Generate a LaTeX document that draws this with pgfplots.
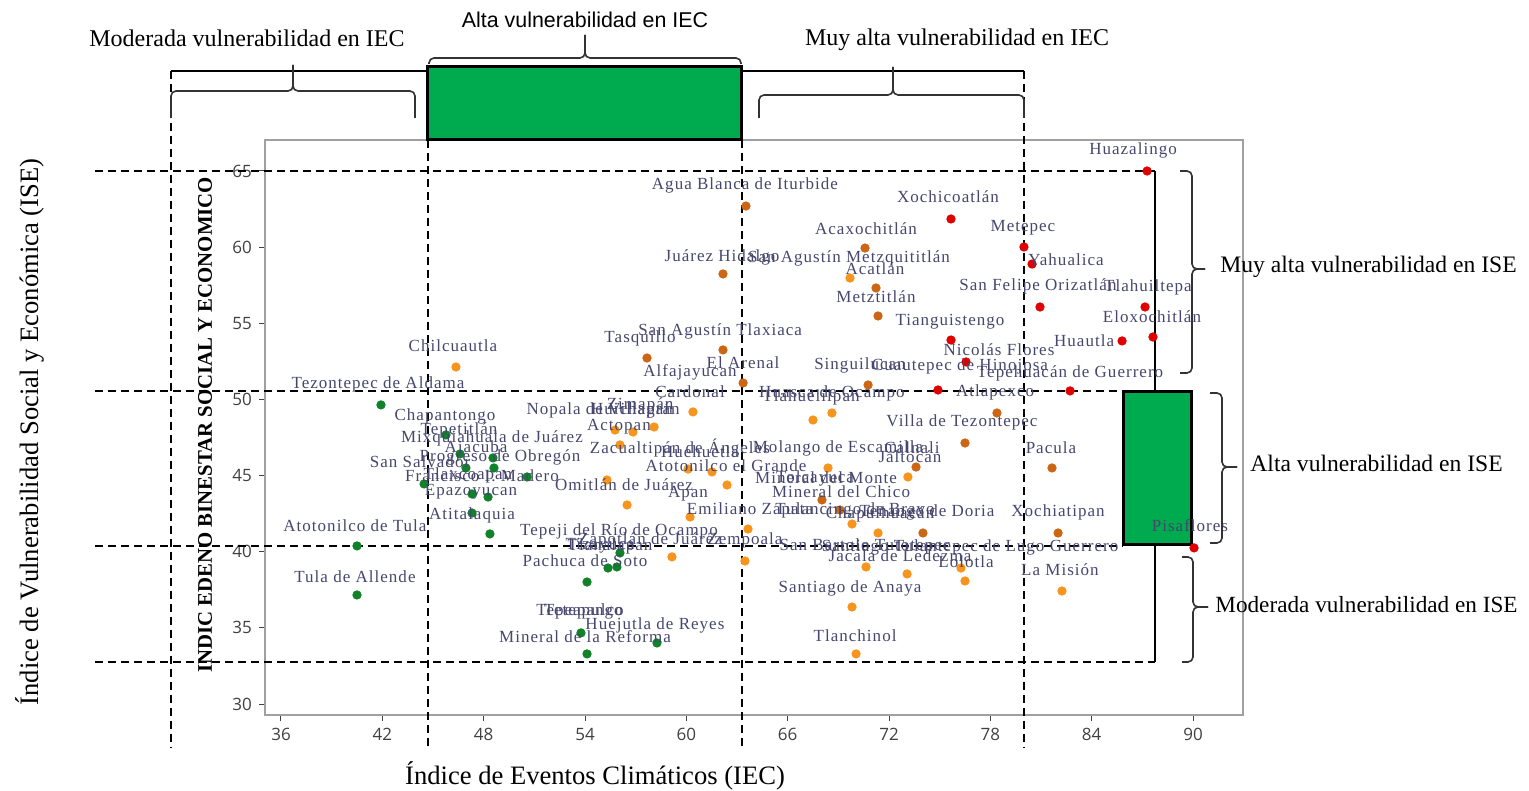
\documentclass[border=0pt]{standalone}
\usepackage{fontspec}
\setmainfont{Liberation Serif}
\newfontfamily\tickfont{Open Sans}
\newfontfamily\lblfont[LetterSpace=6]{Liberation Serif}
\newfontfamily\narrowsans{Liberation Sans}
\usepackage{pgfplots}
\usepackage{pgfplotstable}
\pgfplotsset{compat=1.18}
\definecolor{cgreen}{RGB}{16,130,40}
\definecolor{corange}{RGB}{247,148,29}
\definecolor{cbrown}{RGB}{205,102,20}
\definecolor{cred}{RGB}{225,0,0}
\definecolor{boxgreen}{RGB}{0,170,79}
\definecolor{lblcol}{RGB}{70,70,110}
\definecolor{axgray}{RGB}{160,160,160}
\definecolor{tickgray}{RGB}{64,64,64}

\pgfplotstableread{
x y
87.28 65.00
75.67 61.85
79.99 60.01
80.47 58.89
80.94 56.07
87.16 56.07
87.63 54.10
85.80 53.84
75.67 53.90
76.56 52.46
74.90 50.62
82.72 50.56
90.06 40.25
}\redpts

\pgfplotstableread{
x y
63.53 62.70
70.58 59.94
62.17 58.24
71.23 57.32
71.35 55.48
62.17 53.25
57.67 52.72
63.36 51.08
70.76 50.95
78.39 49.11
76.50 47.14
73.60 45.56
81.65 45.50
74.01 41.23
82.01 41.23
68.03 43.40
69.10 42.74
}\brownpts

\pgfplotstableread{
x y
46.36 52.13
69.69 57.97
60.39 49.18
58.09 48.19
55.78 47.99
56.84 47.86
56.07 47.01
60.10 45.43
61.52 45.24
55.30 44.71
62.41 44.38
56.49 43.07
60.22 42.28
63.65 41.49
67.50 48.65
68.62 49.11
68.39 45.50
73.12 44.91
69.81 41.82
71.35 41.23
59.15 39.66
63.47 39.39
70.64 39.00
73.07 38.54
76.26 38.93
76.50 38.08
82.24 37.42
69.81 36.37
70.05 33.29
}\orangepts

\pgfplotstableread{
x y
41.92 49.64
45.77 47.67
46.60 46.42
48.55 46.16
46.95 45.50
48.61 45.50
50.57 44.91
44.47 44.45
47.31 43.79
48.26 43.59
47.31 42.54
48.37 41.17
40.50 40.38
40.50 37.16
54.12 38.01
53.76 34.67
54.12 33.29
58.26 34.01
56.07 39.92
55.36 38.93
55.89 39.00
}\greenpts

\pgfplotstableread[col sep=comma]{
x,y,label
86.45,66.38,Huazalingo
63.47,64.08,Agua Blanca de Iturbide
75.49,63.29,Xochicoatlán
70.64,61.19,Acaxochitlán
79.93,61.26,Metepec
62.11,59.35,Juárez Hidalgo
69.63,59.29,San Agustín Metzquititlán
71.17,58.57,Acatlán
71.23,56.73,Metztitlán
75.61,55.09,Tianguistengo
82.48,59.16,Yahualica
80.82,57.45,San Felipe Orizatlán
87.33,57.38,Tlahuiltepa
87.57,55.41,Eloxochitlán
83.55,53.84,Huautla
78.51,53.25,Nicolás Flores
82.72,51.74,Tepehuacán de Guerrero
76.20,52.20,Cuautepec de Hinojosa
70.28,52.20,Singuilucan
78.28,50.49,Atlapexco
76.32,48.52,Villa de Tezontepec
81.59,46.81,Pacula
73.36,46.81,Calnali
73.24,46.22,Jaltocán
68.98,46.81,Molango de Escamilla
59.62,46.81,Zacualtipán de Ángeles
60.81,46.55,Huehuetla
62.35,45.63,Atotonilco el Grande
68.27,44.84,Mineral del Monte
67.62,44.78,Tolcayuca
69.16,43.92,Mineral del Chico
69.99,42.74,Tulancingo de Bravo
71.47,42.48,Chapulhuacán
74.25,42.61,Tenango de Doria
63.77,42.68,Emiliano Zapata
82.01,42.61,Xochiatipan
82.12,38.80,La Misión
76.56,39.33,Lolotla
76.80,40.25,Santiago Tulantepec de Lugo Guerrero
70.58,40.38,San Bartolo Tutotepec
72.65,39.72,Jacala de Ledezma
69.69,37.62,Santiago de Anaya
69.99,34.47,Tlanchinol
56.01,41.36,Tepeji del Río de Ocampo
57.85,40.77,Zapotlán de Juárez
63.47,40.77,Zempoala
54.89,40.38,Tizayuca
55.48,40.38,Tlanalapan
54.00,39.39,Pachuca de Soto
53.70,36.11,Tepeapulco
53.90,36.05,Tetepango
58.14,35.19,Huejutla de Reyes
54.00,34.40,Mineral de la Reforma
40.38,38.34,Tula de Allende
40.38,41.69,Atotonilco de Tula
47.31,42.41,Atitalaquia
47.25,43.92,Epazoyucan
47.90,44.97,Francisco I. Madero
47.07,45.04,Tlaxcoapan
44.23,45.89,San Salvador
48.97,46.22,Progreso de Obregón
47.55,46.81,Ajacuba
48.49,47.47,Mixquiahuala de Juárez
46.54,47.99,Tepetitlán
45.71,48.91,Chapantongo
41.74,51.01,Tezontepec de Aldama
46.18,53.51,Chilcuautla
62.00,54.49,San Agustín Tlaxiaca
57.26,54.03,Tasquillo
63.36,52.39,El Arenal
60.22,51.80,Alfajayucan
60.22,50.49,Cardonal
68.62,50.42,Huasca de Ocampo
67.38,50.10,Tlahuelilpan
55.07,49.31,Nopala de Villagrán
57.26,49.64,Zimapán
56.78,49.31,Huichapan
56.01,48.19,Actopan
56.31,44.38,Omitlán de Juárez
60.10,43.79,Apan
89.82,41.69,Pisaflores
}\labels

\begin{document}
\begin{tikzpicture}
\path[use as bounding box] (0,0) rectangle (764.5pt,395.5pt);
\begin{axis}[
  at={(132.5pt,38pt)}, anchor=south west,
  width=489pt, height=287.5pt, scale only axis,
  xmin=35.053, xmax=92.96, ymin=29.278, ymax=67.036,
  xtick={36,42,...,90}, ytick={30,35,...,65},
  axis line style={draw=axgray, line width=0.6pt},
  tick align=outside, tick pos=left, major tick length=3pt,
  tick style={draw=tickgray, line width=0.5pt},
  /pgf/number format/assume math mode=true,
  ticklabel style={font=\tickfont\fontsize{8.5}{10}\selectfont, text=tickgray},
  clip=false,
]
\addplot[only marks, mark=*, mark size=2.1pt, color=cgreen] table[x=x,y=y] {\greenpts};
\addplot[only marks, mark=*, mark size=2.1pt, color=corange] table[x=x,y=y] {\orangepts};
\addplot[only marks, mark=*, mark size=2.1pt, color=cbrown] table[x=x,y=y] {\brownpts};
\addplot[only marks, mark=*, mark size=2.1pt, color=cred] table[x=x,y=y] {\redpts};
\addplot[draw=none, mark=none, nodes near coords, point meta=explicit symbolic,
  nodes near coords style={anchor=center, inner sep=0pt, font=\lblfont\fontsize{8.5}{9}\selectfont, text=lblcol}]
  table[x=x,y=y,meta=label] {\labels};
% quartile guide lines
\pgfplotsset{dl/.style={black, line width=1pt, dash pattern=on 4pt off 2.5pt, mark=none}}
\addplot[dl] coordinates {(29.49,71.57) (29.49,27.11)};
\addplot[dl] coordinates {(44.70,67.04) (44.70,27.11)};
\addplot[dl] coordinates {(63.29,67.04) (63.29,27.11)};
\addplot[dl] coordinates {(79.99,71.57) (79.99,27.11)};
\addplot[dl] coordinates {(24.99,65) (87.75,65)};
\addplot[dl] coordinates {(24.99,50.55) (85.87,50.55)};
\addplot[dl] coordinates {(24.99,40.4) (85.87,40.4)};
\addplot[dl] coordinates {(24.99,32.76) (87.75,32.76)};
% whiskers
\addplot[black, line width=1pt, mark=none] coordinates {(29.49,71.57) (44.70,71.57)};
\addplot[black, line width=1pt, mark=none] coordinates {(63.29,71.57) (79.99,71.57)};
\addplot[black, line width=1pt, mark=none] coordinates {(87.75,65) (87.75,50.55)};
\addplot[black, line width=1pt, mark=none] coordinates {(87.75,40.5) (87.75,32.76)};
% boxes
\addplot[draw=black, line width=1.5pt, fill=boxgreen, mark=none] coordinates {(44.70,67.04) (44.70,71.89) (63.29,71.89) (63.29,67.04)} -- cycle;
\addplot[draw=black, line width=1.5pt, fill=boxgreen, mark=none] coordinates {(85.87,40.5) (85.87,50.55) (89.92,50.55) (89.92,40.5)} -- cycle;
\end{axis}
\begin{scope}[x=0.5pt, y=-0.5pt, shift={(0,395.5pt)}]
\begin{scope}[draw=black!80, line width=0.8pt, rounded corners=2.5pt]
% top braces
\draw (429,64) -- (429,58) -- (585,58) -- (585,35);
\draw (741,64) -- (741,58) -- (585,58) -- (585,35);
\draw (171,118) -- (171,91) -- (293,91) -- (293,65);
\draw (415,118) -- (415,91) -- (293,91) -- (293,65);
\draw (759,118) -- (759,95) -- (893,95) -- (893,67);
\draw (1024,118) -- (1024,95) -- (893,95) -- (893,67);
% right braces
\draw (1180,171) -- (1192,171) -- (1192,269) -- (1205,269);
\draw (1180,373) -- (1192,373) -- (1192,269) -- (1205,269);
\draw (1210,393) -- (1222,393) -- (1222,467) -- (1237,467);
\draw (1210,543) -- (1222,543) -- (1222,467) -- (1237,467);
\draw (1182,557) -- (1193,557) -- (1193,607) -- (1208,607);
\draw (1182,662) -- (1193,662) -- (1193,607) -- (1208,607);
\end{scope}
\node[font=\narrowsans\fontsize{10.7}{12}\selectfont] at (585,20) {Alta vulnerabilidad en IEC};
\node[font=\fontsize{12}{14}\selectfont] at (247,38) {Moderada vulnerabilidad en IEC};
\node[font=\fontsize{12}{14}\selectfont] at (957,40) {Muy alta vulnerabilidad en IEC};
\node[font=\fontsize{11.8}{14}\selectfont, anchor=west, inner sep=0pt] at (1220,267) {Muy alta vulnerabilidad en ISE};
\node[font=\fontsize{11.8}{14}\selectfont, anchor=west, inner sep=0pt] at (1250,463) {Alta vulnerabilidad en ISE};
\node[font=\fontsize{11.6}{14}\selectfont, anchor=west, inner sep=0pt] at (1215,605) {Moderada vulnerabilidad en ISE};
\node[font=\fontsize{13.3}{15}\selectfont] at (595,776) {Índice de Eventos Climáticos (IEC)};
\node[font=\fontsize{13.3}{15}\selectfont, rotate=90] at (30,432) {Índice de Vulnerabilidad Social y Económica (ISE)};
\node[font=\bfseries\fontsize{10.4}{12}\selectfont, rotate=90] at (205,425) {INDIC EDENO BINESTAR SOCIAL Y ECONOMICO};
\end{scope}
\end{tikzpicture}
\end{document}
